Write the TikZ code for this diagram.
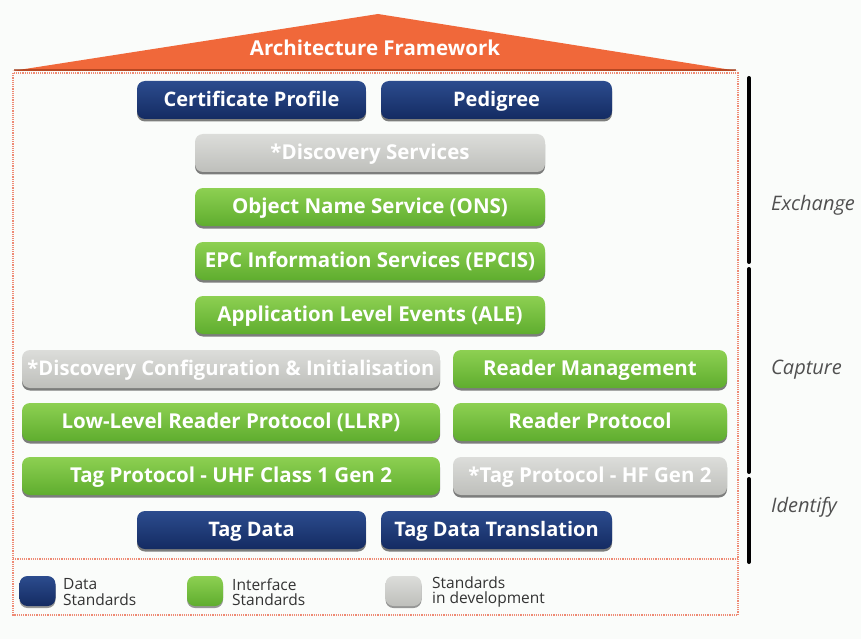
\documentclass[tikz,border=0pt]{standalone}
\usepackage{fontspec}
\setmainfont{Open Sans}
\usetikzlibrary{shadows}

\definecolor{bgcol}{HTML}{FAFCFA}
\definecolor{roofcol}{HTML}{F0683A}
\definecolor{roofdark}{HTML}{9E3A18}
\definecolor{framecol}{HTML}{EE8A74}
\definecolor{navyT}{HTML}{2C4C8E}
\definecolor{navyB}{HTML}{142B62}
\definecolor{greenT}{HTML}{8DD052}
\definecolor{greenB}{HTML}{5FAD2E}
\definecolor{grayT}{HTML}{DCDDDA}
\definecolor{grayB}{HTML}{BEBFBB}
\definecolor{labcol}{HTML}{505050}
\definecolor{legcol}{HTML}{333333}

\begin{document}
\begin{tikzpicture}[x=1pt,y=-1pt,
  block/.style={rounded corners=8pt, minimum height=38pt, inner sep=0pt,
    text height=15pt, text depth=1.5pt,
    text=white, font=\fontsize{20.5}{22}\selectfont\bfseries,
    drop shadow={shadow xshift=0pt, shadow yshift=-2.5pt, opacity=0.5, fill=black}},
  navyblock/.style={block, top color=navyT, bottom color=navyB,
    font=\fontsize{20}{22}\selectfont\bfseries},
  greenblock/.style={block, top color=greenT, bottom color=greenB},
  grayblock/.style={block, top color=grayT, bottom color=grayB},
  legsquare/.style={rounded corners=8pt, minimum width=36pt, minimum height=30pt, inner sep=0pt,
    drop shadow={shadow xshift=0pt, shadow yshift=-2pt, opacity=0.4, fill=black}},
  legtext/.style={anchor=west, align=left, inner sep=0pt, text=legcol,
    font=\fontsize{15.5}{15.5}\selectfont},
  layerlabel/.style={text=labcol, anchor=west, inner sep=0pt,
    font=\fontsize{20}{22}\selectfont\itshape},
  layerbar/.style={line width=4pt, line cap=round, black},
  frame/.style={framecol, line width=1.3pt, dash pattern=on 1.2pt off 1pt}
]
\useasboundingbox (0,0) rectangle (861,639);
\fill[bgcol] (0,0) rectangle (861,639);

% roof
\fill[roofcol] (12,71) -- (378,14) -- (738,71) -- cycle;
\draw[roofdark, line width=2pt, opacity=0.7] (14,70) -- (736,70);
\node[text=white, font=\fontsize{20.5}{22}\selectfont\bfseries] (title) at (375,48) {Architecture Framework};

% dotted frame around the stack and the legend
\draw[frame] (13,73) rectangle (738,615);
\draw[frame] (13,559) -- (738,559);

% layer bars and labels
\draw[layerbar] (749,78) -- (749,262);
\draw[layerbar] (749,269) -- (749,472);
\draw[layerbar] (749,479) -- (749,562);
\node[layerlabel] (exch) at (771,205) {Exchange};
\node[layerlabel] (capt) at (771,370) {Capture};
\node[layerlabel] (iden) at (771,507) {Identify};

% standards
\node[navyblock, minimum width=229pt] (cert) at (251.5,100) {Certificate Profile};
\node[navyblock, minimum width=231pt] (ped) at (496.5,100) {Pedigree};
\node[grayblock, minimum width=350pt] (disc) at (370,153) {*Discovery Services};
\node[greenblock, minimum width=350pt] (ons) at (370,207) {Object Name Service (ONS)};
\node[greenblock, minimum width=350pt] (epcis) at (370,261) {EPC Information Services (EPCIS)};
\node[greenblock, minimum width=350pt] (ale) at (370,315) {Application Level Events (ALE)};
\node[grayblock, minimum width=418pt, font=\fontsize{20.2}{22}\selectfont\bfseries] (dci) at (231,369) {*Discovery Configuration \& Initialisation};
\node[greenblock, minimum width=274pt] (rm) at (590,369) {Reader Management};
\node[greenblock, minimum width=418pt] (llrp) at (231,422) {Low-Level Reader Protocol (LLRP)};
\node[greenblock, minimum width=274pt] (rp) at (590,422) {Reader Protocol};
\node[greenblock, minimum width=418pt] (uhf) at (231,476) {Tag Protocol - UHF Class 1 Gen 2};
\node[grayblock, minimum width=274pt] (hf) at (590,476) {*Tag Protocol - HF Gen 2};
\node[navyblock, minimum width=229pt] (td) at (251.5,530) {Tag Data};
\node[navyblock, minimum width=231pt] (tdt) at (496.5,530) {Tag Data Translation};

% legend
\node[legsquare, top color=navyT, bottom color=navyB] (lnavy) at (37.5,591) {};
\node[legtext] (lnavyt) at (63,592) {Data\\Standards};
\node[legsquare, top color=greenT, bottom color=greenB] (lgreen) at (205,591) {};
\node[legtext] (lgreent) at (232,592) {Interface\\Standards};
\node[legsquare, top color=grayT, bottom color=grayB] (lgray) at (403.5,591) {};
\node[legtext] (lgrayt) at (432,592) {Standards\\in development};
\end{tikzpicture}
\end{document}
